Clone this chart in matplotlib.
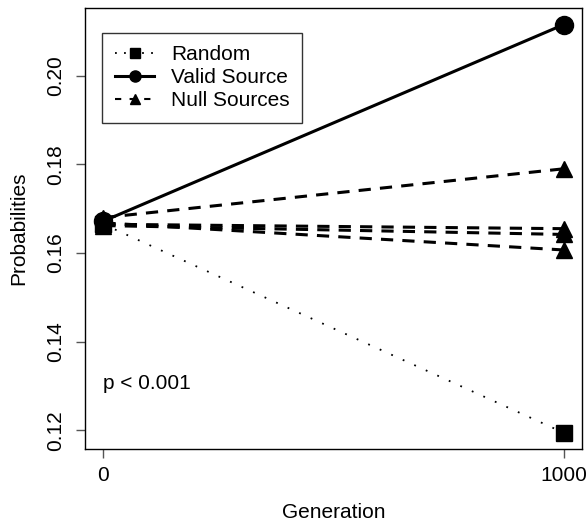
import numpy as np
import matplotlib
matplotlib.use("Agg")
import matplotlib.pyplot as plt
from matplotlib.lines import Line2D

plt.rcParams['font.family'] = ['Liberation Sans', 'DejaVu Sans']

generation = [0, 1000]
random_vals = [0.1665, 0.1195]
valid_vals = [0.1672, 0.2115]
null_vals = [
    [0.1680, 0.1790],
    [0.1665, 0.1655],
    [0.1662, 0.1642],
    [0.1668, 0.1607],
]
xticks = [0, 1000]
yticks = [0.12, 0.14, 0.16, 0.18, 0.20]

fs = 15

fig = plt.figure(figsize=(5.87, 5.24), dpi=100)
ax = fig.add_axes([0.1448, 0.1431, 0.8467, 0.8410])

lw = 2.2
for nv in null_vals:
    ax.plot(generation, nv, color='black', lw=lw, dashes=(4, 3),
            marker='^', markersize=12)
ax.plot(generation, random_vals, color='black', lw=1.3, dashes=(1, 6),
        marker='s', markersize=11)
ax.plot(generation, valid_vals, color='black', lw=lw,
        marker='o', markersize=13)

# R style 4% padding on both axes
ymin = min(random_vals + valid_vals)
ymax = max(random_vals + valid_vals)
yr = ymax - ymin
ax.set_xlim(-40, 1040)
ax.set_ylim(ymin - 0.04 * yr, ymax + 0.04 * yr)
ax.set_xticks(xticks)
ax.set_xticklabels([str(v) for v in xticks])
ax.set_yticks(yticks)
ax.set_yticklabels(['%.2f' % v for v in yticks], rotation=90, va='center')
ax.tick_params(direction='out', length=6.5, width=1, color='#555555',
               labelsize=fs)
ax.tick_params(axis='x', pad=6)
ax.tick_params(axis='y', pad=8)
for s in ax.spines.values():
    s.set_linewidth(1)

ax.set_xlabel('Generation', fontsize=fs, labelpad=13)
ax.set_ylabel('Probabilities', fontsize=fs, labelpad=13)

ax.text(0, 0.1305, 'p < 0.001', fontsize=fs, ha='left', va='center')

handles = [
    Line2D([], [], color='black', lw=1.3, dashes=(1, 4), marker='s', markersize=7),
    Line2D([], [], color='black', lw=lw, marker='o', markersize=8),
    Line2D([], [], color='black', lw=1.5, dashes=(3, 4), marker='^', markersize=7),
]
leg = ax.legend(handles, ['Random', 'Valid Source', 'Null Sources'],
                loc='upper left', bbox_to_anchor=(0.035, 0.945),
                fontsize=fs, frameon=True, fancybox=False,
                edgecolor='black', borderpad=0.6, labelspacing=0.2,
                handlelength=1.9, handletextpad=0.8, borderaxespad=0)
leg.get_frame().set_linewidth(1)

fig.savefig('out.png', dpi=100)
